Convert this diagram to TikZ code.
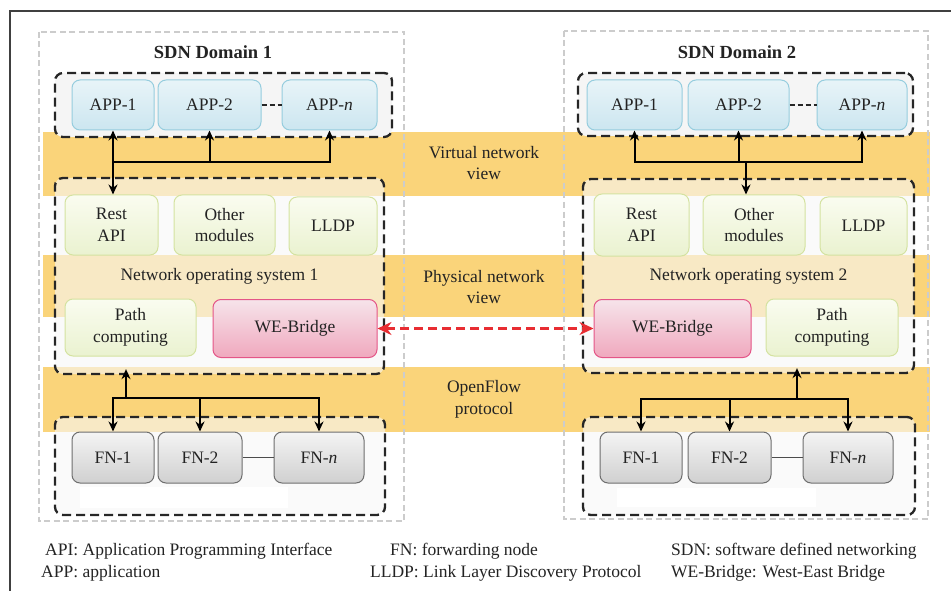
\documentclass[tikz,border=0pt]{standalone}
\usepackage{fontspec}
\setmainfont{Liberation Serif}
\usepackage{tikz}
\usetikzlibrary{positioning,calc,arrows.meta}

\definecolor{bandorange}{RGB}{250,212,122}
\definecolor{appedge}{RGB}{150,205,222}
\definecolor{apptop}{RGB}{232,244,248}
\definecolor{appbot}{RGB}{204,230,240}
\definecolor{modedge}{RGB}{212,226,160}
\definecolor{modtop}{RGB}{250,252,240}
\definecolor{modbot}{RGB}{234,242,208}
\definecolor{weedge}{RGB}{228,85,135}
\definecolor{wetop}{RGB}{246,228,234}
\definecolor{webot}{RGB}{240,168,190}
\definecolor{fnedge}{RGB}{110,110,110}
\definecolor{fntop}{RGB}{244,244,244}
\definecolor{fnbot}{RGB}{208,208,208}
\definecolor{bridgered}{RGB}{232,45,50}
\definecolor{txt}{RGB}{35,35,35}

\tikzset{
  module/.style={rounded corners=8pt, line width=1pt, align=center, inner sep=0pt},
  appbox/.style={module, draw=appedge, top color=apptop, bottom color=appbot, minimum height=50pt},
  modbox/.style={module, draw=modedge, top color=modtop, bottom color=modbot},
  webox/.style={module, draw=weedge, top color=wetop, bottom color=webot, minimum height=58pt},
  fnbox/.style={module, draw=fnedge, top color=fntop, bottom color=fnbot, minimum height=51pt},
  layer/.style={draw=black!85, line width=2.3pt, dash pattern=on 9pt off 5pt, rounded corners=8pt, inner sep=0pt},
  nosfill/.style={fill=black!3, fill opacity=0.6, text opacity=1},
  domainbox/.style={draw=gray!40, line width=1.3pt, dash pattern=on 6pt off 3.5pt},
  band/.style={fill=bandorange},
  link/.style={draw=black, line width=2pt, >={Stealth[length=10pt,width=9pt]}},
  bridge/.style={draw=bridgered, line width=3pt, dash pattern=on 9pt off 5pt, >={Stealth[length=14pt,width=13pt]}},
  legend/.style={anchor=base west, inner sep=0pt},
}

\begin{document}
\begin{tikzpicture}[x=1pt, y=-1pt, font=\fontsize{17.5}{21.5}\selectfont, text=txt]
\useasboundingbox (0,0) rectangle (951,591);

% Frame
\draw[black!75, line width=1.3pt] (10,591) -- (10,11) -- (951,11);

% Bands
\fill[band] (43,132) rectangle (930,196);
\fill[band] (43,255) rectangle (930,317);
\fill[band] (43,367) rectangle (930,432);

% Domains
\draw[domainbox] (39,32) rectangle (404,521);
\draw[domainbox] (564,31) rectangle (928,519);
\node[font=\fontsize{18.5}{22}\selectfont\bfseries] (d1title) at (213,52) {SDN Domain 1};
\node[font=\fontsize{18.5}{22}\selectfont\bfseries] (d2title) at (737,52) {SDN Domain 2};

% Views
\node[align=center] (vview) at (484,163) {Virtual network\\view};
\node[align=center] (pview) at (484,287) {Physical network\\view};
\node[align=center] (ofproto) at (484,399.5) {OpenFlow\\protocol};

% SDN Domain 1
\node[layer, fill=black!4, minimum width=337pt, minimum height=64pt] (d1applayer) at (223.5,105) {};
\node[layer, nosfill, minimum width=329pt, minimum height=196pt] (d1nos) at (219.5,276) {Network operating system 1};
\node[layer, nosfill, minimum width=330pt, minimum height=98pt] (d1fnlayer) at (220,466) {};
\fill[white] (80,487) rectangle (288,508);

\node[appbox, minimum width=82pt] (d1app1) at (113,105) {APP-1};
\node[appbox, minimum width=103pt] (d1app2) at (209.5,105) {APP-2};
\node[appbox, minimum width=95pt] (d1appn) at (329.5,105) {APP-\textit{n}};
\draw[black!85, line width=2pt, dash pattern=on 5pt off 3pt] (d1app2) -- (d1appn);

\node[modbox, minimum width=93pt, minimum height=60pt] (d1rest) at (111.5,225) {Rest\\API};
\node[modbox, minimum width=101pt, minimum height=60pt] (d1other) at (224.5,225) {Other\\modules};
\node[modbox, minimum width=88pt, minimum height=58pt] (d1lldp) at (333,226) {LLDP};
\node[modbox, minimum width=131pt, minimum height=57pt] (d1path) at (130.5,327.5) {Path\\computing};
\node[webox, minimum width=164pt] (d1we) at (295,328.5) {WE-Bridge};

\node[fnbox, minimum width=82pt] (d1fn1) at (113,457.5) {FN-1};
\node[fnbox, minimum width=84pt] (d1fn2) at (200,457.5) {FN-2};
\node[fnbox, minimum width=90pt] (d1fnn) at (319,457.5) {FN-\textit{n}};
\draw[black!70, line width=1.2pt] (d1fn2) -- (d1fnn);

\coordinate (d1vbus) at (113,162);
\draw[link,<->] (d1app1.south) -- (d1app1.south |- d1rest.north);
\draw[link,->] (d1vbus) -| (d1app2.south);
\draw[link,->] (d1vbus) -| (d1appn.south);

\coordinate (d1ofbus) at (126,398);
\draw[link,->] (d1ofbus) -- ($(d1ofbus |- d1nos.south)+(0,-6)$);
\draw[link,->] (d1ofbus) -| (d1fn1.north);
\draw[link,->] (d1ofbus) -| (d1fnn.north);
\draw[link,->] (d1fn2.north |- d1ofbus) -- (d1fn2.north);

% SDN Domain 2
\node[layer, fill=black!4, minimum width=335pt, minimum height=63pt] (d2applayer) at (745.5,104.5) {};
\node[layer, nosfill, minimum width=331pt, minimum height=194pt] (d2nos) at (748.5,276) {Network operating system 2};
\node[layer, nosfill, minimum width=332pt, minimum height=98pt] (d2fnlayer) at (749,466) {};
\fill[white] (617,488) rectangle (816,507);

\node[appbox, minimum width=95pt] (d2app1) at (634.5,105) {APP-1};
\node[appbox, minimum width=101pt] (d2app2) at (738.5,105) {APP-2};
\node[appbox, minimum width=90pt] (d2appn) at (862,105) {APP-\textit{n}};
\draw[black!85, line width=2pt, dash pattern=on 5pt off 3pt] (d2app2) -- (d2appn);

\node[modbox, minimum width=95pt, minimum height=62pt] (d2rest) at (641.5,225) {Rest\\API};
\node[modbox, minimum width=102pt, minimum height=60pt] (d2other) at (754,225) {Other\\modules};
\node[modbox, minimum width=87pt, minimum height=58pt] (d2lldp) at (863.5,226) {LLDP};
\node[webox, minimum width=157pt] (d2we) at (672.5,328.5) {WE-Bridge};
\node[modbox, minimum width=132pt, minimum height=57pt] (d2path) at (832,327.5) {Path\\computing};

\node[fnbox, minimum width=82pt] (d2fn1) at (641,457.5) {FN-1};
\node[fnbox, minimum width=83pt] (d2fn2) at (729.5,457.5) {FN-2};
\node[fnbox, minimum width=90pt] (d2fnn) at (848,457.5) {FN-\textit{n}};
\draw[black!70, line width=1.2pt] (d2fn2) -- (d2fnn);

\coordinate (d2vbus) at (746,162);
\draw[link,->] (d2vbus) -- (d2vbus |- d2other.north);
\draw[link,->] (d2vbus) -| (d2app1.south);
\draw[link,->] (d2vbus) -| (d2appn.south);
\draw[link,->] (d2app2.south |- d2vbus) -- (d2app2.south);

\coordinate (d2ofbus) at (797,399);
\draw[link,->] (d2ofbus) -- ($(d2ofbus |- d2nos.south)+(0,-6)$);
\draw[link,->] (d2ofbus) -| (d2fn1.north);
\draw[link,->] (d2ofbus) -| (d2fnn.north);
\draw[link,->] (d2fn2.north |- d2ofbus) -- (d2fn2.north);

% WE-Bridge link
\draw[bridge,<->] (d1we.east) -- (d2we.west);

% Legend
\node[legend] (leg1) at (45,555) {API: Application Programming Interface};
\node[legend] (leg2) at (41,577) {APP: application};
\node[legend] (leg3) at (390,555) {FN: forwarding node};
\node[legend] (leg4) at (370,577) {LLDP: Link Layer Discovery Protocol};
\node[legend] (leg5) at (671,555) {SDN: software defined networking};
\node[legend] (leg6) at (671,577) {WE-Bridge: West-East Bridge};
\end{tikzpicture}
\end{document}
